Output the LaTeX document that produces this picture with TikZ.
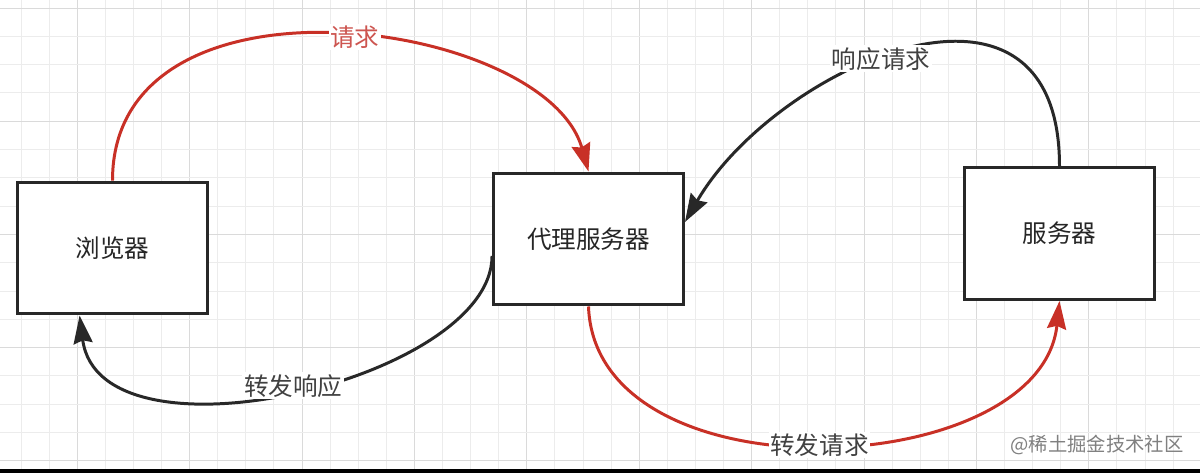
\documentclass[tikz,border=0pt]{standalone}
\usepackage{fontspec}
\setmainfont{Noto Sans CJK SC}
\usetikzlibrary{arrows.meta}
\definecolor{gridminor}{RGB}{236,236,236}
\definecolor{gridmajor}{RGB}{218,218,218}
\definecolor{boxgray}{RGB}{40,40,40}
\definecolor{reqred}{RGB}{200,48,38}
\definecolor{lblred}{RGB}{205,85,80}
\definecolor{lblgray}{RGB}{65,65,65}

\begin{document}
\begin{tikzpicture}[x=0.02cm,y=-0.02cm,
    box/.style={draw=boxgray, line width=1.7pt, fill=white, minimum width=3.8cm, minimum height=2.64cm, inner sep=0pt, font=\fontsize{14}{16}\selectfont, text=black!85},
    redline/.style={draw=reqred, line width=1.7pt, -{Stealth[length=0.56cm,width=0.38cm,inset=0.06cm]}},
    blackline/.style={draw=boxgray, line width=1.7pt, -{Stealth[length=0.56cm,width=0.38cm,inset=0.06cm]}},
    lbl/.style={fill=white, inner sep=1pt, font=\fontsize{14}{16}\selectfont, text=lblgray}]
        \useasboundingbox (0,0) rectangle (1200,473);
        \fill[white] (0,0) rectangle (1200,473);
        % grid
        \foreach \k in {0,...,42} {
            \pgfmathtruncatemacro{\m}{mod(\k,4)}
            \ifnum\m=2 \def\gc{gridmajor}\else \def\gc{gridminor}\fi
            \draw[\gc, line width=0.5pt] ({21+28.1*\k},0) -- ({21+28.1*\k},473);
        }
        \foreach \k in {0,...,16} {
            \pgfmathtruncatemacro{\m}{mod(\k,4)}
            \ifnum\m=0 \def\gc{gridmajor}\else \def\gc{gridminor}\fi
            \draw[\gc, line width=0.5pt] (0,{8+28.3*\k}) -- (1200,{8+28.3*\k});
        }
        \fill[black] (0,469) rectangle (1200,473);

        \node[box] (browser) at (112.5,248) {浏览器};
        \node[box] (proxy) at (588.5,239) {代理服务器};
        \node[box] (server) at (1059.5,233.5) {服务器};

        \draw[redline] (browser.north) .. controls +(0,-222) and +(-43,-153) .. (proxy.north) node [lbl, pos=0.53, text=lblred] {请求};
        \draw[blackline] (server.north) .. controls +(0,-228) and +(90,-155) .. (proxy.10) node [lbl, pos=0.55] {响应请求};
        \draw[blackline] (proxy.190) .. controls +(0,124) and +(20,156) .. (browser.244) node [lbl, pos=0.5, yshift=0.1cm] {转发响应};
        \draw[redline] (proxy.south) .. controls +(7,195) and +(-19,181) .. (server.south) node [lbl, pos=0.5] {转发请求};

        \node[font=\fontsize{11}{13}\selectfont, text=black!50] (mark) at (1097,445) {@稀土掘金技术社区};
    \end{tikzpicture}
\end{document}
